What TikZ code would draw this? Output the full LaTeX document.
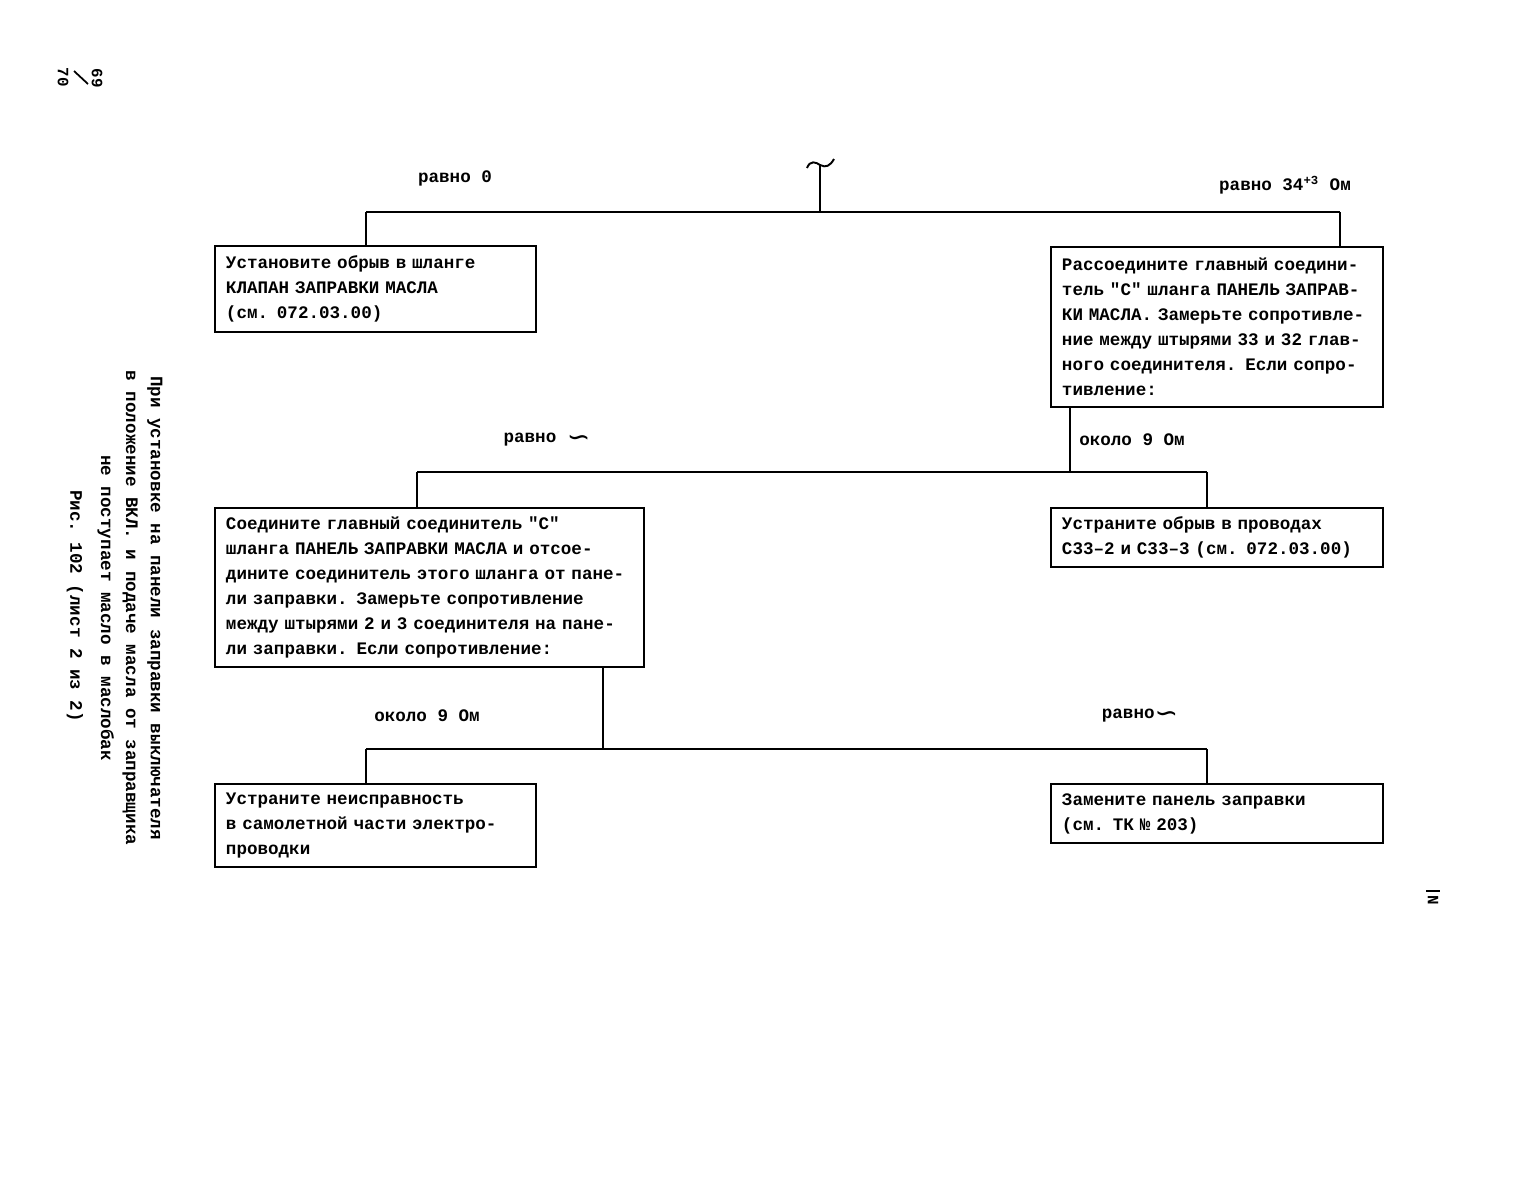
\documentclass[tikz,border=0pt]{standalone}
\usepackage{fontspec}
\setmonofont{Liberation Mono}[UprightFont=* Bold]
\newfontfamily\symfont{DejaVu Sans}
\newcommand{\tw}{\ttfamily\fontsize{10}{14.2}\selectfont}
\newcommand{\inftysign}{\raisebox{-2.5pt}{\symfont\fontsize{16}{16}\selectfont ∽}}

\begin{document}
\begin{tikzpicture}[x=0.02cm, y=-0.02cm, line width=1.1pt]
	\useasboundingbox (0,0) rectangle (1538,1198);
	\begin{scope}[every node/.style={draw, line width=1.1pt, anchor=north west, align=left,
	              inner xsep=0.22cm, inner ysep=0.17cm, font=\tw}]
		\node[text width=5.98cm, minimum height=1.72cm] (b1) at (214,245) {Установите обрыв в шланге\\КЛАПАН ЗАПРАВКИ МАСЛА\\(см. 072.03.00)};
		\node[text width=6.20cm, minimum height=3.2cm] (b2) at (1050,246) {Рассоедините главный соедини-\\тель "С" шланга ПАНЕЛЬ ЗАПРАВ-\\КИ МАСЛА. Замерьте сопротивле-\\ние между штырями 33 и 32 глав-\\ного соединителя. Если сопро-\\тивление:};
		\node[text width=8.14cm, minimum height=3.18cm] (b3) at (214,507) {Соедините главный соединитель "С"\\шланга ПАНЕЛЬ ЗАПРАВКИ МАСЛА и отсое-\\дините соединитель этого шланга от пане-\\ли заправки. Замерьте сопротивление\\между штырями 2 и 3 соединителя на пане-\\ли заправки. Если сопротивление:};
		\node[text width=6.20cm, minimum height=1.18cm] (b4) at (1050,507) {Устраните обрыв в проводах\\С33–2 и С33–3 (см. 072.03.00)};
		\node[text width=5.98cm, minimum height=1.66cm] (b5) at (214,783) {Устраните неисправность\\в самолетной части электро-\\проводки};
		\node[text width=6.20cm, minimum height=1.18cm] (b6) at (1050,783) {Замените панель заправки\\(см. ТК № 203)};
	\end{scope}
	\begin{scope}[every node/.style={font=\tw, inner sep=0pt}]
		\node (e1) at (455,178) {равно 0};
		\node (e2) at (1285,185) {равно 34\textsuperscript{+3} Ом};
		\node (e3) at (547,440) {равно \inftysign};
		\node (e4) at (1132,440) {около 9 Ом};
		\node (e5) at (427,716) {около 9 Ом};
		\node (e6) at (1140,716) {равно\inftysign};
	\end{scope}
	\coordinate (r0) at (820,165);
	\coordinate (r1) at (820,212);
	\coordinate (t1) at (366,212);
	\coordinate (t2) at (1340,212);
	\coordinate (m0) at (1070,472);
	\coordinate (m1) at (417,472);
	\coordinate (m2) at (1207,472);
	\coordinate (l0) at (603,749);
	\coordinate (l1) at (366,749);
	\coordinate (l2) at (1207,749);
	\draw (807,168) .. controls (810,160) and (816,162) .. (r0) .. controls (826,168) and (830,166) .. (834,159);
	\draw (r0) -- (r1);
	\draw (t1) -- (t2);
	\draw (t1) -- (t1 |- b1.north);
	\draw (t2) -- (t2 |- b2.north);
	\draw (b2.south -| m0) -- (m0);
	\draw (m1) -- (m2);
	\draw (m1) -- (m1 |- b3.north);
	\draw (m2) -- (m2 |- b4.north);
	\draw (b3.south -| l0) -- (l0);
	\draw (l1) -- (l2);
	\draw (l1) -- (l1 |- b5.north);
	\draw (l2) -- (l2 |- b6.north);
	\begin{scope}[every node/.style={rotate=-90, font=\tw, align=center, inner sep=0pt}]
		\node (cap) at (130,608) {При установке на панели заправки выключателя\\в положение ВКЛ. и подаче масла от заправщика\\не поступает масло в маслобак};
		\node (fig) at (75,606) {Рис. 102 (лист 2 из 2)};
		\node[font=\ttfamily\fontsize{9}{10}\selectfont] (p1) at (97,78) {69};
		\node[font=\ttfamily\fontsize{9}{10}\selectfont] (p2) at (63,77) {70};
		\node[font=\ttfamily\fontsize{9}{10}\selectfont] (mk) at (1433,900) {N};
	\end{scope}
	\draw[line width=1pt] (74,71) -- (88,84);
	\draw[line width=1pt] (1426,891) -- (1440,891);
\end{tikzpicture}
\end{document}
